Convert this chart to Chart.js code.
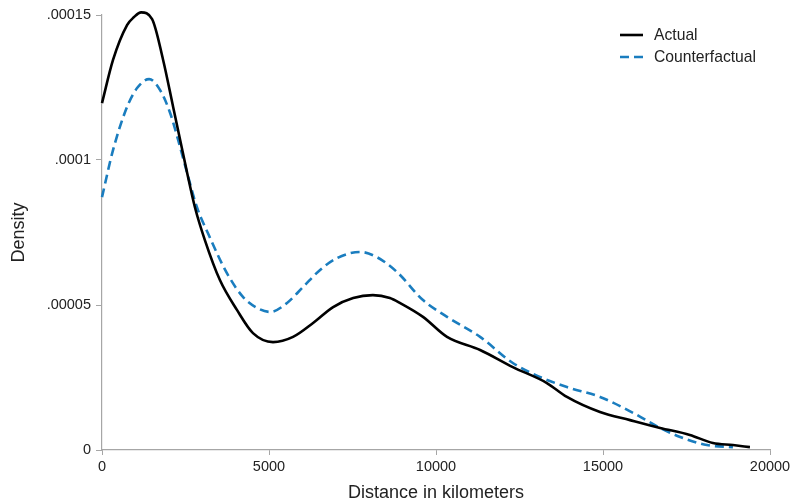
<!DOCTYPE html>
<html>
<head>
<meta charset="utf-8">
<script src="https://cdn.jsdelivr.net/npm/chart.js@4/dist/chart.umd.min.js"></script>
<style>
  html, body { margin: 0; padding: 0; background: #fff; }
  #wrap { width: 795px; height: 504px; position: relative; }
</style>
</head>
<body>
<div id="wrap"><canvas id="chart"></canvas></div>
<script>
// Kernel density of distance (density in units of 1e-5)
const actualKm = [0, 330, 750, 960, 1170, 1500, 1830, 2130, 2340, 2550, 2780, 3080, 3530, 4040, 4520, 5120, 5720, 6320, 6920, 7520, 8110, 8620, 8920, 9610, 10330, 11320, 12300, 13320, 13920, 14910, 15810, 16710, 17600, 18290, 18890, 19400]
const actualDens = [11.96, 13.45, 14.65, 14.93, 15.09, 14.86, 13.45, 11.83, 10.69, 9.55, 8.38, 7.24, 5.86, 4.83, 4.03, 3.72, 3.90, 4.38, 4.93, 5.24, 5.34, 5.24, 5.07, 4.59, 3.90, 3.45, 2.86, 2.31, 1.83, 1.31, 1.03, 0.76, 0.52, 0.24, 0.17, 0.10]

const counterKm = [0, 330, 750, 1050, 1410, 1740, 2040, 2280, 2550, 2840, 3170, 3740, 4220, 4640, 5030, 5540, 6020, 6530, 7040, 7730, 8230, 8830, 9610, 10330, 11320, 12300, 13110, 13920, 14910, 15900, 16710, 17310, 18110, 18890]
const counterDens = [8.72, 10.34, 11.83, 12.48, 12.79, 12.41, 11.62, 10.69, 9.55, 8.38, 7.48, 6.10, 5.28, 4.90, 4.76, 5.07, 5.62, 6.21, 6.62, 6.83, 6.65, 6.14, 5.17, 4.59, 3.90, 3.00, 2.52, 2.17, 1.83, 1.28, 0.76, 0.45, 0.17, 0.10]

const xTicks = [0, 5000, 10000, 15000, 20000]
const yTicks = [0, 0.00005, 0.0001, 0.00015]

const axisGray = '#a6a6a6'
const textColor = '#222'
const fontFamily = '"Liberation Sans", Arial, Helvetica, sans-serif'

function toPoints(xs, ys) {
  return xs.map((x, i) => ({ x: x, y: ys[i] * 1e-5 }))
}

function fmtDensity(v) {
  if (v === 0) return '0'
  return String(+v.toPrecision(3)).replace(/^0/, '')
}

// Legend drawn in the top-right corner of the plot, like the reference
const cornerLegend = {
  id: 'cornerLegend',
  afterDraw(chart) {
    const ctx = chart.ctx
    const items = chart.data.datasets
    ctx.save()
    ctx.font = '15.7px ' + fontFamily
    ctx.textBaseline = 'middle'
    items.forEach((ds, i) => {
      const y = 35 + i * 22
      ctx.strokeStyle = ds.borderColor
      ctx.lineWidth = ds.borderWidth
      ctx.setLineDash(ds.borderDash || [])
      ctx.beginPath()
      ctx.moveTo(620, y)
      ctx.lineTo(643, y)
      ctx.stroke()
      ctx.fillStyle = textColor
      ctx.fillText(ds.label, 654, y + 1)
    })
    ctx.restore()
  }
}

new Chart(document.getElementById('chart'), {
  type: 'line',
  data: {
    datasets: [
      {
        label: 'Actual',
        data: toPoints(actualKm, actualDens),
        borderColor: '#000',
        borderWidth: 2.6,
        pointRadius: 0,
        cubicInterpolationMode: 'monotone',
        clip: false,
        fill: false
      },
      {
        label: 'Counterfactual',
        data: toPoints(counterKm, counterDens),
        borderColor: '#1a7dbf',
        borderWidth: 2.6,
        borderDash: [9, 5],
        pointRadius: 0,
        cubicInterpolationMode: 'monotone',
        clip: false,
        fill: false
      }
    ]
  },
  options: {
    responsive: true,
    maintainAspectRatio: false,
    animation: false,
    layout: { padding: { top: 15, right: 25, left: 0, bottom: 0 } },
    plugins: {
      legend: { display: false },
      tooltip: { enabled: false }
    },
    scales: {
      x: {
        type: 'linear',
        min: 0,
        max: 20000,
        afterBuildTicks: s => { s.ticks = xTicks.map(v => ({ value: v })) },
        afterFit: s => { s.height = 54 },
        border: { display: true, color: axisGray, width: 1.2 },
        grid: { display: true, drawOnChartArea: false, drawTicks: true, tickLength: 5, color: axisGray },
        ticks: { color: textColor, font: { family: fontFamily, size: 14.5 }, padding: 3, maxRotation: 0, callback: v => String(v) },
        title: { display: true, text: 'Distance in kilometers', color: textColor, font: { family: fontFamily, size: 18 }, padding: { top: 1, bottom: 0 } }
      },
      y: {
        type: 'linear',
        min: 0,
        max: 0.00015,
        afterBuildTicks: s => { s.ticks = yTicks.map(v => ({ value: v })) },
        afterFit: s => { s.width = 102 },
        border: { display: true, color: axisGray, width: 1.2 },
        grid: { display: true, drawOnChartArea: false, drawTicks: true, tickLength: 6, color: axisGray },
        ticks: { color: textColor, font: { family: fontFamily, size: 14.5 }, padding: 5, callback: fmtDensity },
        title: { display: true, text: 'Density', color: textColor, font: { family: fontFamily, size: 18 }, padding: { top: 8, bottom: 4 } }
      }
    }
  },
  plugins: [cornerLegend]
})
</script>
</body>
</html>
